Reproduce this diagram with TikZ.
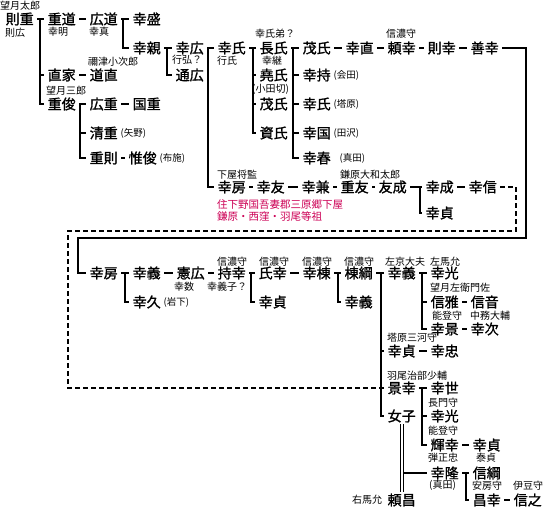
\documentclass[tikz,border=0pt]{standalone}
\usepackage{fontspec}
\newfontfamily\jp{Noto Sans CJK JP}
\newfontfamily\jpm[FakeBold=1.3]{Noto Sans CJK JP}
\definecolor{redt}{RGB}{204,0,85}
\begin{document}
\begin{tikzpicture}[x=1pt,y=-1pt,
  nm/.style={font=\jpm\fontsize{14}{16}\selectfont, inner sep=1.5pt, anchor=west},
  lb/.style={font=\jp\fontsize{10}{12}\selectfont, inner sep=0pt, anchor=west},
  pn/.style={font=\jp\fontsize{9.5}{11}\selectfont, inner sep=0pt, anchor=west, xshift=1pt},
  rd/.style={font=\jp\fontsize{10.5}{12}\selectfont, inner sep=0pt, anchor=west, text=redt},
  cn/.style={line width=2.3pt, shorten >=2pt, shorten <=2pt},
  bus/.style={line width=2.3pt, shorten >=2pt},
  dl/.style={line width=1.3pt, dash pattern=on 5pt off 3pt},
  dbl/.style={double, line width=1pt, double distance=2.4pt},
  thin/.style={line width=1.6pt, shorten >=2pt, shorten <=2pt}]
\useasboundingbox (0,0) rectangle (545,509);
% ---------- upper names ----------
\node[nm] (n1) at (4,19) {則重};
\node[nm] (n2) at (46,19) {重道};
\node[nm] (n3) at (88,19) {広道};
\node[nm] (n4) at (131,19) {幸盛};
\node[nm] (n5) at (131,48) {幸親};
\node[nm] (n6) at (174,48) {幸広};
\node[nm] (n7) at (216,48) {幸氏};
\node[nm] (n8) at (258,48) {長氏};
\node[nm] (n9) at (301,48) {茂氏};
\node[nm] (n10) at (344,48) {幸直};
\node[nm] (n11) at (386,48) {頼幸};
\node[nm] (n12) at (426,48) {則幸};
\node[nm] (n13) at (469,48) {善幸};
\node[nm] (n14) at (46,75) {直家};
\node[nm] (n15) at (88,75) {道直};
\node[nm] (n16) at (174,75) {通広};
\node[nm] (n17) at (258,75) {堯氏};
\node[nm] (n18) at (301,75) {幸持};
\node[nm] (n19) at (46,104) {重俊};
\node[nm] (n20) at (88,104) {広重};
\node[nm] (n21) at (131,104) {国重};
\node[nm] (n22) at (258,104) {茂氏};
\node[nm] (n23) at (301,104) {幸氏};
\node[nm] (n24) at (88,133) {清重};
\node[nm] (n25) at (258,133) {資氏};
\node[nm] (n26) at (301,133) {幸国};
\node[nm] (n27) at (88,158) {重則};
\node[nm] (n28) at (127,158) {惟俊};
\node[nm] (n29) at (301,158) {幸春};
\node[nm] (n30) at (216,187) {幸房};
\node[nm] (n31) at (255,187) {幸友};
\node[nm] (n32) at (300,187) {幸兼};
\node[nm] (n33) at (339,187) {重友};
\node[nm] (n34) at (377,187) {友成};
\node[nm] (n35) at (424,187) {幸成};
\node[nm] (n36) at (467,187) {幸信};
\node[nm] (n37) at (424,213) {幸貞};
% ---------- lower names ----------
\node[nm] (m1) at (88,273) {幸房};
\node[nm] (m2) at (131,273) {幸義};
\node[nm] (m3) at (175,273) {憲広};
\node[nm] (m4) at (216,273) {持幸};
\node[nm] (m5) at (257,273) {氏幸};
\node[nm] (m6) at (301,273) {幸棟};
\node[nm] (m7) at (343,273) {棟綱};
\node[nm] (m8) at (386,273) {幸義};
\node[nm] (m9) at (429,273) {幸光};
\node[nm] (m10) at (131,302) {幸久};
\node[nm] (m11) at (257,302) {幸貞};
\node[nm] (m12) at (343,302) {幸義};
\node[nm] (m13) at (429,302) {信雅};
\node[nm] (m14) at (469,302) {信音};
\node[nm] (m15) at (429,329) {幸景};
\node[nm] (m16) at (469,329) {幸次};
\node[nm] (m17) at (386,351) {幸貞};
\node[nm] (m18) at (429,351) {幸忠};
\node[nm] (m19) at (386,388) {景幸};
\node[nm] (m20) at (429,388) {幸世};
\node[nm] (m21) at (386,416) {女子};
\node[nm] (m22) at (429,416) {幸光};
\node[nm] (m23) at (429,445) {輝幸};
\node[nm] (m24) at (471,445) {幸貞};
\node[nm] (m25) at (429,473) {幸隆};
\node[nm] (m26) at (471,473) {信綱};
\node[nm] (m27) at (386,500) {頼昌};
\node[nm] (m28) at (471,500) {昌幸};
\node[nm] (m29) at (512,500) {信之};
% ---------- parenthetical notes ----------
\node[pn] (p1) at (n18.east) {(会田)};
\node[pn] (p2) at (n23.east) {(塔原)};
\node[pn] (p3) at (n26.east) {(田沢)};
\node[pn, xshift=6pt] (p4) at (n29.east) {(真田)};
\node[pn] (p5) at (n24.east) {(矢野)};
\node[pn] (p6) at (n28.east) {(布施)};
\node[pn] (p7) at (m10.east) {(岩下)};
% ---------- small labels ----------
\node[lb] (l1) at (0,6) {望月太郎};
\node[lb] (l2) at (5,33) {則広};
\node[lb] (l3) at (48,32) {幸明};
\node[lb] (l4) at (89,32) {幸真};
\node[lb] (l5) at (88,62) {禰津小次郎};
\node[lb] (l6) at (46,91) {望月三郎};
\node[lb] (l7) at (172,60) {行弘？};
\node[lb] (l8) at (217,61) {行氏};
\node[lb] (l9) at (255,34) {幸氏弟？};
\node[lb] (l10) at (262,61) {幸継};
\node[lb] (l11) at (252,89) {(小田切)};
\node[lb] (l12) at (386,34) {信濃守};
\node[lb] (l13) at (217,175) {下屋将監};
\node[lb] (l14) at (340,175) {鎌原大和太郎};
\node[rd] (r1) at (217,205) {住下野国吾妻郡三原郷下屋};
\node[rd] (r2) at (217,216) {鎌原・西窪・羽尾等祖};
\node[lb] (l15) at (174,287) {幸数};
\node[lb] (l16) at (217,262) {信濃守};
\node[lb] (l17) at (207,287) {幸義子？};
\node[lb] (l18) at (259,262) {信濃守};
\node[lb] (l19) at (302,262) {信濃守};
\node[lb] (l20) at (344,262) {信濃守};
\node[lb] (l21) at (385,262) {左京大夫};
\node[lb] (l22) at (430,262) {左馬允};
\node[lb] (l23) at (430,288) {望月左衛門佐};
\node[lb] (l24) at (432,316) {能登守};
\node[lb] (l25) at (470,316) {中務大輔};
\node[lb] (l26) at (387,338) {塔原三河守};
\node[lb] (l27) at (387,376) {羽尾治部少輔};
\node[lb] (l28) at (428,403) {長門守};
\node[lb] (l29) at (428,431) {能登守};
\node[lb] (l30) at (428,458) {弾正忠};
\node[lb] (l31) at (476,458) {泰貞};
\node[lb] (l32) at (429,485) {(真田)};
\node[lb] (l33) at (472,486) {安房守};
\node[lb] (l34) at (513,486) {伊豆守};
\node[lb] (l35) at (352,500) {右馬允};
% ---------- bus coordinates ----------
\coordinate (b1) at (40,0);
\coordinate (b2) at (123,0);
\coordinate (b3) at (167,0);
\coordinate (b4) at (208,0);
\coordinate (b5) at (253,0);
\coordinate (b6) at (293,0);
\coordinate (b7) at (80,0);
\coordinate (b8) at (420,0);
\coordinate (b9) at (125,0);
\coordinate (b10) at (251,0);
\coordinate (b11) at (338,0);
\coordinate (b12) at (381,0);
\coordinate (b13) at (422,0);
\coordinate (b15) at (466,0);
% ---------- upper connectors ----------
\draw[cn] (n1.east) -- (n2.west);
\draw[bus] (b1 |- n1.east) |- (n19.west);
\draw[bus] (b1 |- n14.west) -- (n14.west);
\draw[cn] (n2.east) -- (n3.west);
\draw[cn] (n3.east) -- (n4.west);
\draw[bus] (b2 |- n4.west) |- (n5.west);
\draw[cn] (n5.east) -- (n6.west);
\draw[bus] (b3 |- n6.west) |- (n16.west);
\draw[cn] (n6.east) -- (n7.west);
\draw[bus] (b4 |- n7.west) |- (n30.west);
\draw[cn] (n7.east) -- (n8.west);
\draw[bus] (b5 |- n8.west) |- (n25.west);
\draw[bus] (b5 |- n17.west) -- (n17.west);
\draw[bus] (b5 |- n22.west) -- (n22.west);
\draw[cn] (n8.east) -- (n9.west);
\draw[bus] (b6 |- n9.west) |- (n29.west);
\draw[bus] (b6 |- n18.west) -- (n18.west);
\draw[bus] (b6 |- n23.west) -- (n23.west);
\draw[bus] (b6 |- n26.west) -- (n26.west);
\draw[cn] (n9.east) -- (n10.west);
\draw[cn] (n10.east) -- (n11.west);
\draw[cn] (n11.east) -- (n12.west);
\draw[cn] (n12.east) -- (n13.west);
\draw[cn] (n14.east) -- (n15.west);
\draw[cn] (n19.east) -- (n20.west);
\draw[bus] (b7 |- n20.west) |- (n27.west);
\draw[bus] (b7 |- n24.west) -- (n24.west);
\draw[cn] (n20.east) -- (n21.west);
\draw[cn] (n27.east) -- (n28.west);
\draw[cn] (n30.east) -- (n31.west);
\draw[cn] (n31.east) -- (n32.west);
\draw[cn] (n32.east) -- (n33.west);
\draw[cn] (n33.east) -- (n34.west);
\draw[cn] (n34.east) -- (n35.west);
\draw[bus] (b8 |- n35.west) |- (n37.west);
\draw[cn] (n35.east) -- (n36.west);
% ---------- long solid link ----------
\coordinate (c1) at (526,238);
\coordinate (c2) at (78,238);
\draw[cn] (n13.east) -| (c1) -- (c2) |- (m1.west);
% ---------- dashed link ----------
\coordinate (d1) at (516,231);
\coordinate (d2) at (68,231);
\coordinate (d3) at (68,388);
\draw[dl, shorten <=2pt] (n36.east) -| (d1) -- (d2) -- (d3) -- (b12 |- m19.west);
% ---------- lower connectors ----------
\draw[cn] (m1.east) -- (m2.west);
\draw[bus] (b9 |- m2.west) |- (m10.west);
\draw[cn] (m2.east) -- (m3.west);
\draw[cn] (m3.east) -- (m4.west);
\draw[cn] (m4.east) -- (m5.west);
\draw[bus] (b10 |- m5.west) |- (m11.west);
\draw[cn] (m5.east) -- (m6.west);
\draw[cn] (m6.east) -- (m7.west);
\draw[bus] (b11 |- m7.west) |- (m12.west);
\draw[cn] (m7.east) -- (m8.west);
\draw[bus] (b12 |- m8.west) |- (m21.west);
\draw[bus] (b12 |- m17.west) -- (m17.west);
\draw[bus] (b12 |- m19.west) -- (m19.west);
\draw[cn] (m8.east) -- (m9.west);
\draw[bus] (b13 |- m9.west) |- (m15.west);
\draw[bus] (b13 |- m13.west) -- (m13.west);
\draw[cn] (m13.east) -- (m14.west);
\draw[cn] (m15.east) -- (m16.west);
\draw[cn] (m17.east) -- (m18.west);
\draw[cn] (m19.east) -- (m20.west);
\draw[bus] (b13 |- m20.west) |- (m23.west);
\draw[bus] (b13 |- m22.west) -- (m22.west);
\draw[cn] (m23.east) -- (m24.west);
\draw[dbl] (m21.south) -- (m27.north);
\coordinate (j1) at (m21.south |- m25.west);
\draw[thin] (j1) -- (m25.west);
\draw[cn] (m25.east) -- (m26.west);
\draw[bus] (b15 |- m26.west) |- (m28.west);
\draw[cn] (m28.east) -- (m29.west);
\end{tikzpicture}
\end{document}
